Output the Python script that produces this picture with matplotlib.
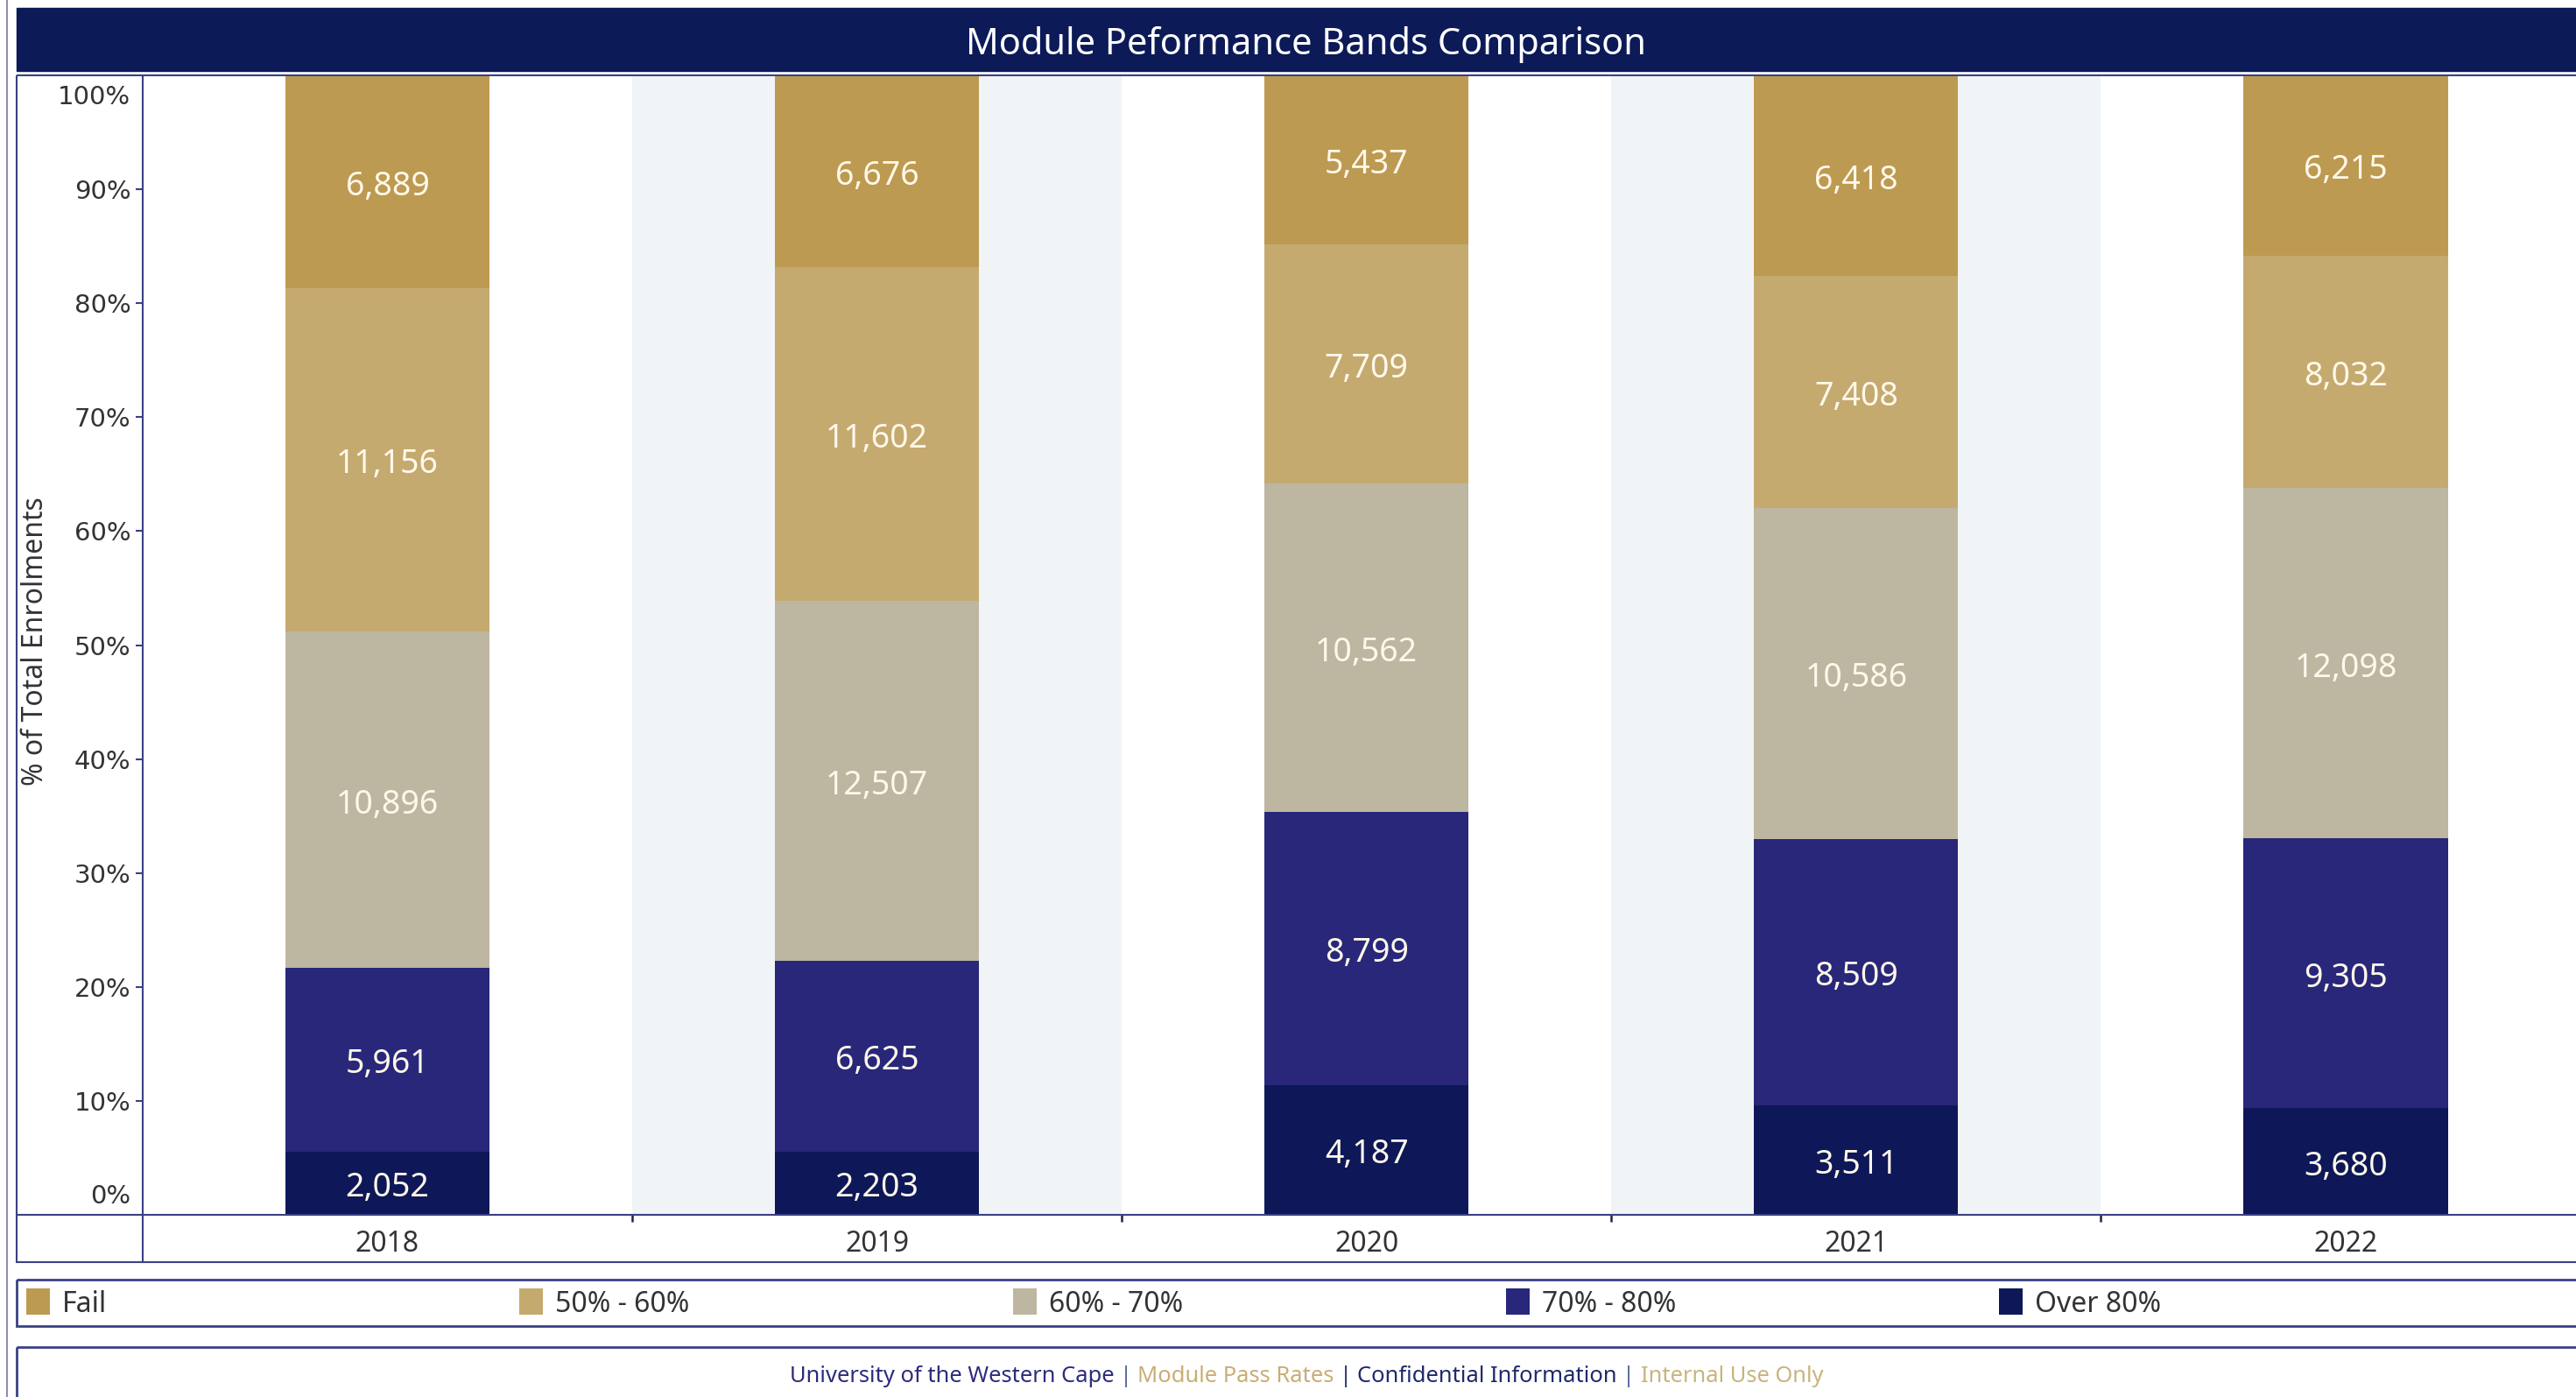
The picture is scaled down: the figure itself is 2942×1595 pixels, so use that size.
import numpy as np
import matplotlib.pyplot as plt
from matplotlib.patches import Rectangle
from matplotlib.offsetbox import TextArea, HPacker, AnchoredOffsetbox

plt.rcParams['font.family'] = ['Noto Sans', 'DejaVu Sans']

# Données (effectifs par bande de performance)
years = ['2018', '2019', '2020', '2021', '2022']
over_80 = [2052, 2203, 4187, 3511, 3680]
band_70_80 = [5961, 6625, 8799, 8509, 9305]
band_60_70 = [10896, 12507, 10562, 10586, 12098]
band_50_60 = [11156, 11602, 7709, 7408, 8032]
fail = [6889, 6676, 5437, 6418, 6215]

# bas -> haut
series = [over_80, band_70_80, band_60_70, band_50_60, fail]
names = ['Over 80%', '70% - 80%', '60% - 70%', '50% - 60%', 'Fail']
colors = ['#0E1858', '#29277A', '#BDB6A1', '#C5AA70', '#BD9A51']

navy = '#3A4185'
W, H = 2942, 1595
fig = plt.figure(figsize=(W / 100, H / 100), dpi=100)

# Axe principal
ax_left, ax_top, ax_bot = 163, 86, 1387
ax = fig.add_axes([ax_left / W, 1 - ax_bot / H, (W - ax_left) / W, (ax_bot - ax_top) / H])
step = 559.1
ax.set_xlim(-0.5, -0.5 + (W - ax_left) / step)
ax.set_ylim(0, 100)

x = np.arange(len(years))
for i in x:
    if i % 2 == 1:
        ax.axvspan(i - 0.5, i + 0.5, color='#F1F4F6', lw=0, zorder=0)

totals = np.sum(series, axis=0)
bottom = np.zeros(len(years))
for vals, name, c in zip(series, names, colors):
    pct = np.array(vals) / totals * 100
    ax.bar(x, pct, bottom=bottom, width=0.417, color=c, linewidth=0, zorder=2, label=name)
    for xi, b, p, v in zip(x, bottom, pct, vals):
        ax.annotate(f'{v:,}', xy=(xi, b + p / 2), xytext=(0, -4), textcoords='offset points',
                    ha='center', va='center', color='#FFF8EA', fontsize=27, zorder=3)
    bottom += pct

for s in ['top', 'right', 'left', 'bottom']:
    ax.spines[s].set_visible(False)

yt = list(range(10, 100, 10))
ax.set_yticks(yt, [f'{t}%' for t in yt], fontfamily='DejaVu Sans')
ax.tick_params(axis='y', length=5.8, width=1.5, color=navy, pad=4,
               labelsize=21, labelcolor='#333333')
for val, dy in [(0, 15.2), (100, -18)]:
    ax.annotate(f'{val}%', xy=(0, val), xycoords=('axes fraction', 'data'),
                xytext=(-9.8, dy), textcoords='offset points', ha='right', va='center',
                fontsize=21, color='#333333', fontfamily='DejaVu Sans')

ax.set_xticks(x, years)
ax.set_xticks(x[:-1] + 0.5, minor=True)
ax.tick_params(axis='x', which='major', length=0, pad=12, labelsize=23, labelcolor='#333333')
ax.tick_params(axis='x', which='minor', length=6, width=1.8, color='#222244')

fig.text(41 / W, 1 - 732 / H, '% of Total Enrolments', rotation=90, ha='center', va='center',
         fontsize=23, color='#333333')

# Cadres, bandeau titre, légende et pied de page
bg = fig.add_axes([0, 0, 1, 1], zorder=5)
bg.set_xlim(0, W)
bg.set_ylim(H, 0)
bg.axis('off')
bg.patch.set_visible(False)

bg.plot([8, 8], [0, H], color='#8C8FB0', lw=1.5)
bg.add_patch(Rectangle((19, 9), W, 72, fc='#0C1A58', ec='#0C1A58'))
bg.text(1492, 51, 'Module Peformance Bands Comparison', ha='center', va='center',
        color='white', fontsize=30)

bg.add_patch(Rectangle((19, ax_top), W, 1441 - ax_top, fill=False, ec=navy, lw=1.5))
bg.plot([ax_left, ax_left], [ax_top, 1441], color=navy, lw=1.5)
bg.plot([19, W], [ax_bot, ax_bot], color=navy, lw=1.5)

bg.add_patch(Rectangle((19, 1461), W, 53, fill=False, ec=navy, lw=2))
for i, name in enumerate(names[::-1]):
    sx = 30 + i * 563.3
    c = colors[::-1][i]
    bg.add_patch(Rectangle((sx, 1471), 27, 30, fc=c, ec='none'))
    bg.text(sx + 41, 1490, name, ha='left', va='center', fontsize=23, color='#333333')

bg.add_patch(Rectangle((19, 1538), W, 70, fill=False, ec=navy, lw=2))
pieces = [('University of the Western Cape', '#2E2B7C'), ('|', '#56679A'),
          ('Module Pass Rates', '#C9AD76'), ('|', '#2A3173'),
          ('Confidential Information', '#1F2A6B'), ('|', '#56679A'),
          ('Internal Use Only', '#C9B47E')]
boxes = [TextArea(t, textprops=dict(color=c, fontsize=18.4)) for t, c in pieces]
footer = HPacker(children=boxes, sep=4.5, pad=0, align='center')
anch = AnchoredOffsetbox(loc='center', child=footer, pad=0, borderpad=0, frameon=False,
                         bbox_to_anchor=(1492 / W, 1 - 1571 / H), bbox_transform=fig.transFigure)
bg.add_artist(anch)

fig.savefig('out.png', dpi=100)
